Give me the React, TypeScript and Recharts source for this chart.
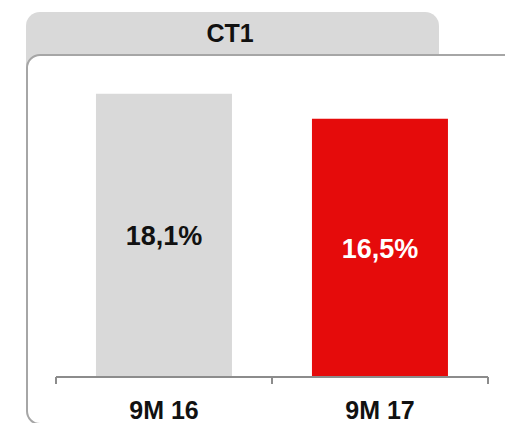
import React from "react";
import { BarChart, Bar, XAxis, YAxis, Cell, LabelList } from "recharts";

const categories = ["9M 16", "9M 17"];
const values = [18.1, 16.5];
const valueLabels = ["18,1%", "16,5%"];
const barColors = ["#d9d9d9", "#e50b0b"];
const labelColors = ["#111111", "#ffffff"];
const boundaryTicks = [0, 1, 2];
const title = "CT1";

const data = categories.map((c, i) => ({ name: c, value: values[i], label: valueLabels[i], pos: i + 0.5 }));

const FONT = '"Liberation Sans", Arial, sans-serif';

const EmptyTick = () => <g />;

const CatTick = (props: any) => {
  const { x, y, payload } = props;
  return (
    <text x={x} y={y + 24} textAnchor="middle" dominantBaseline="central" fontFamily={FONT} fontWeight="bold" fontSize={25} fill="#111">
      {payload.value}
    </text>
  );
};

const ValueLabel = (props: any) => {
  const { x, y, width, height, index } = props;
  return (
    <text x={x + width / 2} y={y + height / 2 + 1} textAnchor="middle" dominantBaseline="central" fontFamily={FONT} fontWeight="bold" fontSize={27} fill={labelColors[index]}>
      {valueLabels[index]}
    </text>
  );
};

export default function App() {
  return (
    <div style={{ position: "absolute", left: 0, top: 0, width: 505, height: 423, overflow: "hidden", background: "#fff" }}>
      <div style={{ position: "absolute", left: 26, top: 12, width: 413, height: 60, background: "#d9d9d9", borderRadius: "14px 14px 0 0" }} />
      <div style={{ position: "absolute", left: 0, top: 12, width: 460, height: 43, display: "flex", alignItems: "center", justifyContent: "center", fontFamily: FONT, fontWeight: "bold", fontSize: 25, color: "#111" }}>
        {title}
      </div>
      <div style={{ position: "absolute", left: 26, top: 54, width: 530, height: 371, boxSizing: "border-box", border: "2px solid #a6a6a6", borderRadius: 14, background: "#fff" }} />
      <div style={{ position: "absolute", left: 0, top: 0 }}>
        <BarChart width={505} height={423} data={data} margin={{ top: 64, right: 17, left: 56, bottom: 0 }} barCategoryGap="18.5%">
          <YAxis hide domain={[0, 20]} />
          <XAxis xAxisId="a" type="number" dataKey="pos" domain={[0, 2]} ticks={boundaryTicks} tick={<EmptyTick />} tickSize={7} height={1} axisLine={{ stroke: "#8c8c8c", strokeWidth: 2 }} tickLine={{ stroke: "#8c8c8c", strokeWidth: 2 }} />
          <XAxis xAxisId="b" dataKey="name" axisLine={false} tickLine={false} tick={<CatTick />} height={45} />
          <Bar xAxisId="b" dataKey="value" isAnimationActive={false}>
            {data.map((d, i) => (
              <Cell key={i} fill={barColors[i]} />
            ))}
            <LabelList dataKey="label" content={<ValueLabel />} />
          </Bar>
        </BarChart>
      </div>
    </div>
  );
}
